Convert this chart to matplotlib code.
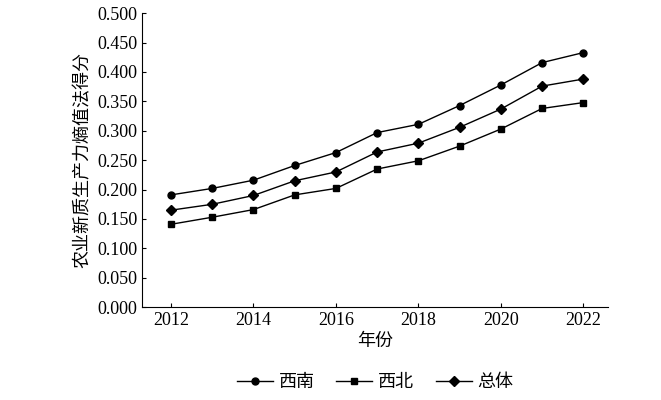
import matplotlib
matplotlib.use("Agg")
import matplotlib.pyplot as plt

years = list(range(2012, 2023))
xinan = [0.191, 0.202, 0.216, 0.241, 0.263, 0.297, 0.311, 0.343, 0.378, 0.416, 0.433]
xibei = [0.141, 0.153, 0.166, 0.191, 0.202, 0.235, 0.249, 0.274, 0.303, 0.338, 0.348]
zongti = [0.165, 0.175, 0.190, 0.215, 0.230, 0.264, 0.279, 0.306, 0.337, 0.376, 0.388]
labels = ["西南", "西北", "总体"]
cjk = "Noto Sans CJK SC"
serif = "Liberation Serif"

fig = plt.figure(figsize=(6.61, 4.0), dpi=100)
ax = fig.add_axes([0.215, 0.232, 0.705, 0.735])
ax.plot(years, xinan, "k-", marker="o", ms=5, lw=1, label=labels[0])
ax.plot(years, xibei, "k-", marker="s", ms=5, lw=1, label=labels[1])
ax.plot(years, zongti, "k-", marker="D", ms=5, lw=1, label=labels[2])
ax.set_ylim(0, 0.5)
ax.set_xlim(2011.3, 2022.6)
ax.set_yticks([i * 0.05 for i in range(11)])
ax.set_yticklabels([f"{i*0.05:.3f}" for i in range(11)], fontfamily=serif, fontsize=13)
ax.set_xticks(range(2012, 2023, 2))
ax.set_xticklabels([str(y) for y in range(2012, 2023, 2)], fontfamily=serif, fontsize=13)
ax.tick_params(direction="in", length=3)
for s in ["top", "right"]:
    ax.spines[s].set_visible(False)
ax.set_xlabel("年份", fontfamily=cjk, fontsize=13, labelpad=2)
ax.set_ylabel("农业新质生产力熵值法得分", fontfamily=cjk, fontsize=13, labelpad=4)
ax.legend(loc="upper center", bbox_to_anchor=(0.5, -0.17), ncol=3, frameon=False,
          prop={"family": cjk, "size": 13}, handlelength=2, columnspacing=1.2, handletextpad=0.3)
fig.savefig("out.png", dpi=100)
